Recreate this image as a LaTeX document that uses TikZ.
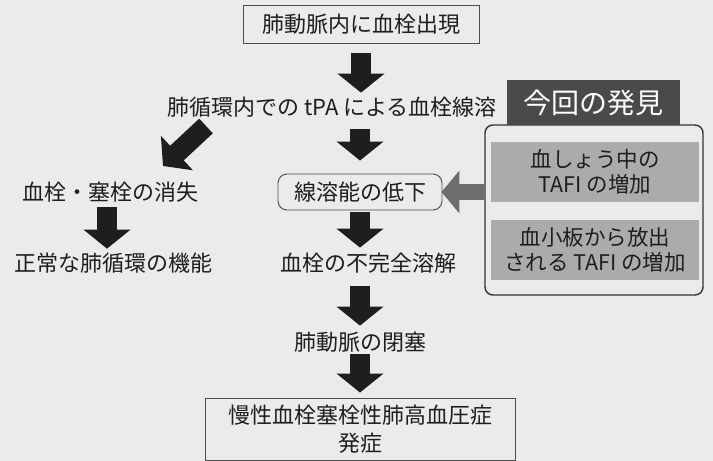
\documentclass[tikz,border=0pt]{standalone}
\usepackage{fontspec}
\setmainfont{Noto Sans CJK JP}
\usetikzlibrary{arrows.meta}
\definecolor{paper}{HTML}{EBEBEB}
\definecolor{ink}{HTML}{1E1E1E}
\definecolor{darkbox}{HTML}{4A4A4A}
\definecolor{greybox}{HTML}{ABABAB}
\definecolor{greyarrow}{HTML}{6E6E6E}
\begin{document}
\begin{tikzpicture}[x=1pt,y=-1pt,
  txt/.style={inner sep=0pt, font=\fontsize{22}{26}\selectfont, text=ink, align=center},
  framebox/.style={txt, draw=black!70, line width=0.9pt, inner sep=0pt},
  blk/.style={line width=20pt, draw=ink, -{Triangle[width=46pt,length=19pt]}},
  gblk/.style={line width=16pt, draw=greyarrow, -{Triangle[width=42pt,length=18pt]}}
]
\useasboundingbox[fill=paper] (0,0) rectangle (713,461);

% main column
\node[framebox, minimum width=236pt, minimum height=38pt] (top) at (361,24) {肺動脈内に血栓出現};
\node[txt] (tpa) at (332,107) {肺循環内での tPA による血栓線溶};
\node[framebox, rounded corners=9pt, minimum width=164pt, minimum height=36pt] (low) at (360,192) {線溶能の低下};
\node[txt] (inc) at (368,263) {血栓の不完全溶解};
\node[txt] (occ) at (360,342) {肺動脈の閉塞};
\node[framebox, minimum width=310pt, minimum height=62pt, font=\fontsize{22}{28}\selectfont] (cteph) at (360,429) {慢性血栓塞栓性肺高血圧症\\発症};

% left branch
\node[txt] (dis) at (111,192) {血栓・塞栓の消失};
\node[txt] (norm) at (114,263) {正常な肺循環の機能};

% right panel
\node[draw=black!80, line width=1.4pt, rounded corners=8pt, minimum width=218pt, minimum height=170pt, inner sep=0pt] (panel) at (594,210) {};
\node[fill=darkbox, text=white, inner sep=0pt, minimum width=173pt, minimum height=45pt, font=\fontsize{28}{30}\selectfont] (find) at (593.5,102.5) {今回の発見};
\node[txt, fill=greybox, minimum width=208pt, minimum height=60pt, font=\fontsize{21.5}{25}\selectfont] (t1) at (595,172) {血しょう中の\\TAFI の増加};
\node[txt, fill=greybox, minimum width=208pt, minimum height=60pt, font=\fontsize{21.5}{25}\selectfont] (t2) at (595,250) {血小板から放出\\される TAFI の増加};

% arrows
\draw[blk] ([yshift=-10pt]top.south) -- ([yshift=4pt]top.south |- tpa.north);
\draw[blk] ([yshift=-12pt]low.north |- tpa.south) -- ([yshift=13pt]low.north);
\draw[blk] ([yshift=-2pt]low.south) -- ([yshift=5pt]low.south |- inc.north);
\draw[blk] ([yshift=-13pt]occ.north |- inc.south) -- ([yshift=6pt]occ.north);
\draw[blk] ([yshift=-2pt]occ.south) -- ([yshift=5pt]occ.south |- cteph.north);
\draw[blk] ([yshift=-5pt]dis.south -| 107,0) -- ([yshift=4pt]norm.north -| 107,0);
\coordinate (d1) at (206,126);
\coordinate (d2) at (163,166);
\draw[blk] (d1) -- (d2);
\draw[gblk] (panel.west |- low.east) -- ([xshift=-1pt]low.east);
\end{tikzpicture}
\end{document}
